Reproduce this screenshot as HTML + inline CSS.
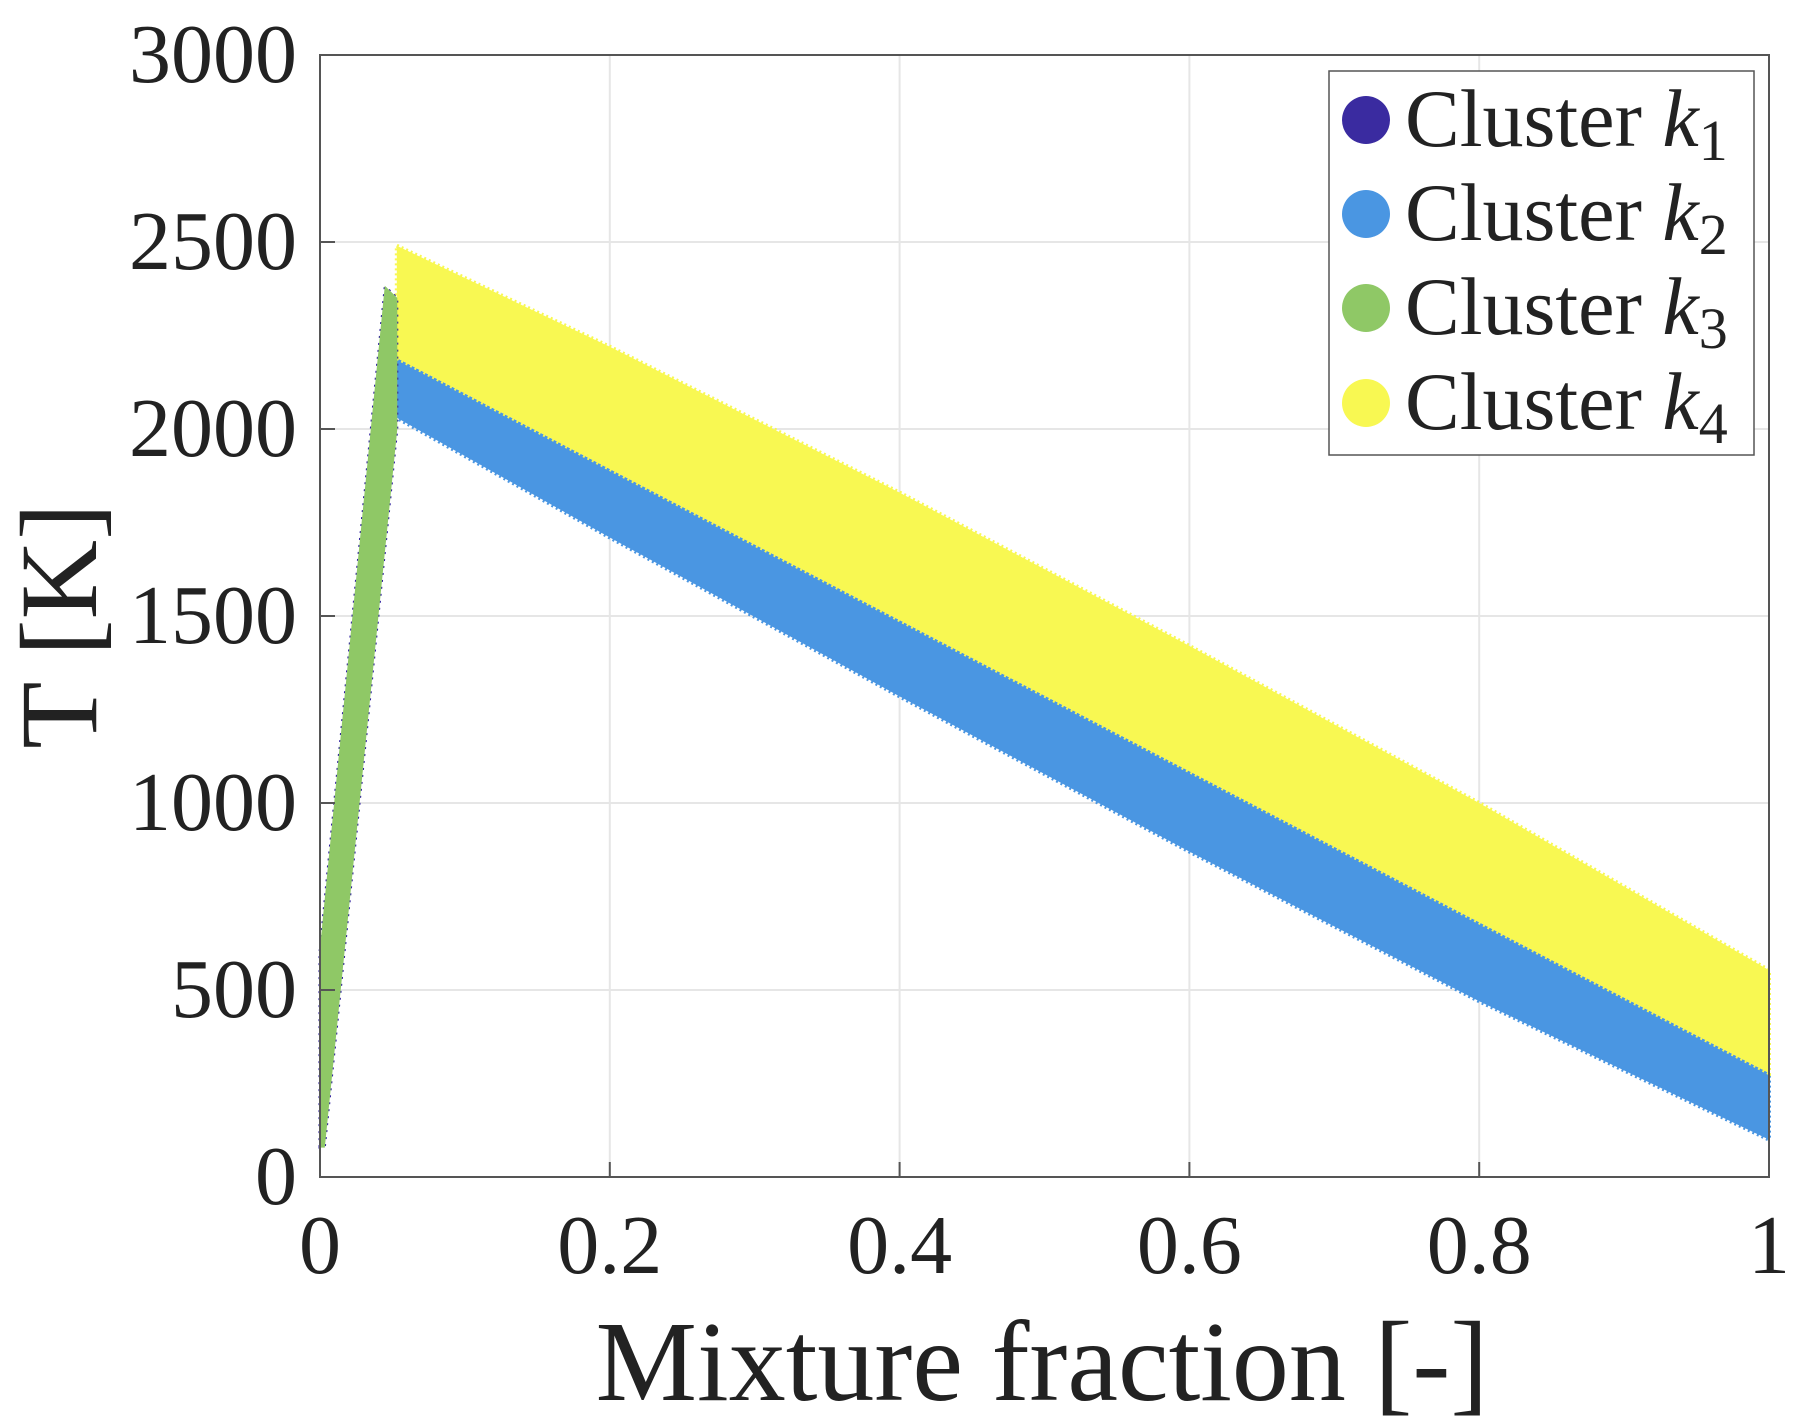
<!DOCTYPE html>
<html><head><meta charset="utf-8"><style>
html,body{margin:0;padding:0;background:#fff;width:1800px;height:1426px;overflow:hidden}
svg{display:block}
text{font-family:"Liberation Serif",serif;fill:#222}
</style></head><body>
<svg id="chart" width="1800" height="1426" viewBox="0 0 1800 1426" xmlns="http://www.w3.org/2000/svg">
<g id="grid"></g>
<g id="marks"></g>
<rect x="320" y="55" width="1449" height="1122" fill="none" stroke="#555" stroke-width="2"/>
<g id="ticks"></g>
<text x="1042" y="1400" font-size="114" text-anchor="middle">Mixture fraction [-]</text>
<text transform="translate(96,626) rotate(-90)" font-size="110" text-anchor="middle">T [K]</text>
<g>
<rect x="1329" y="71" width="425" height="384" fill="#fff" stroke="#555" stroke-width="1.5"/>
<g><circle cx="1366" cy="120" r="24" fill="#3a2ba0"/><text x="1405" y="146" font-size="82">Cluster <tspan font-style="italic">k</tspan><tspan font-size="58" dy="14">1</tspan></text></g>
<g><circle cx="1366" cy="214" r="24" fill="#4a96e2"/><text x="1405" y="240" font-size="82">Cluster <tspan font-style="italic">k</tspan><tspan font-size="58" dy="14">2</tspan></text></g>
<g><circle cx="1366" cy="308" r="24" fill="#8fc866"/><text x="1405" y="334" font-size="82">Cluster <tspan font-style="italic">k</tspan><tspan font-size="58" dy="14">3</tspan></text></g>
<g><circle cx="1366" cy="403" r="24" fill="#f8f852"/><text x="1405" y="429" font-size="82">Cluster <tspan font-style="italic">k</tspan><tspan font-size="58" dy="14">4</tspan></text></g>
</g>
</svg>
<script>
const xTicks=[0,0.2,0.4,0.6,0.8,1];
const xTickLabels=["0","0.2","0.4","0.6","0.8","1"];
const yTicks=[0,500,1000,1500,2000,2500,3000];
const yTickLabels=["0","500","1000","1500","2000","2500","3000"];
const bandX=[0.053,0.2,0.4,0.6,0.8,1.0];
const k4Top=[2490,2220,1830,1420,1000,553];
const k2Top=[2190,1893,1489,1085,681,278];
const k2Bottom=[2030,1710,1285,870,470,100];
const k3X=[0,0,0.045,0.053,0.053,0.003];
const k3T=[80,600,2380,2350,2000,80];

const NS="http://www.w3.org/2000/svg";
const X0=320,X1=1769,Y0=1177,Y1=55;
const sx=v=>X0+(v-0)/(1-0)*(X1-X0);
const sy=v=>Y0-(v-0)/(3000-0)*(Y0-Y1);
function mk(tag,attrs,parent){const e=document.createElementNS(NS,tag);for(const k in attrs)e.setAttribute(k,attrs[k]);parent.appendChild(e);return e;}
const grid=document.getElementById('grid'),ticks=document.getElementById('ticks'),marks=document.getElementById('marks');
xTicks.forEach((t,i)=>{
  const g=mk('line',{x1:sx(t),x2:sx(t),y1:Y1,y2:Y0,stroke:'#e6e6e6','stroke-width':2},grid);
  
  
  const tk=mk('line',{x1:sx(t),x2:sx(t),y1:Y0,y2:Y0-15,stroke:'#555','stroke-width':2},ticks);
  
  
  const tx=mk('text',{x:sx(t),y:1273,'font-size':84,'text-anchor':'middle'},ticks);
  tx.textContent=xTickLabels[i];
  
  
});
yTicks.forEach((t,i)=>{
  const g=mk('line',{x1:X0,x2:X1,y1:sy(t),y2:sy(t),stroke:'#e6e6e6','stroke-width':2},grid);
  
  
  const tk=mk('line',{x1:X0,x2:X0+15,y1:sy(t),y2:sy(t),stroke:'#555','stroke-width':2},ticks);
  
  
  const tx=mk('text',{x:297,y:sy(t)+27,'font-size':84,'text-anchor':'end'},ticks);
  tx.textContent=yTickLabels[i];
  
  
});
function band(top,bot){
  let p=bandX.map((x,i)=>sx(x)+','+sy(top[i]));
  for(let i=bandX.length-1;i>=0;i--)p.push(sx(bandX[i])+','+sy(bot[i]));
  return p.join(' ');
}
const b2=mk('polygon',{points:band(k2Top,k2Bottom),fill:'#4a96e2',stroke:'#4a96e2','stroke-width':4,'stroke-dasharray':'2 3'},marks);


const b4=mk('polygon',{points:band(k4Top,k2Top),fill:'#f8f852',stroke:'#f8f852','stroke-width':4,'stroke-dasharray':'2 3'},marks);


const k3pts=k3X.map((x,i)=>sx(x)+','+sy(k3T[i])).join(' ');
const b1=mk('polygon',{points:k3pts,fill:'none',stroke:'#2d1e9e','stroke-width':3,'stroke-dasharray':'2 5'},marks);


const b3=mk('polygon',{points:k3pts,fill:'#8fc866',stroke:'#8fc866','stroke-width':1},marks);


</script>
</body></html>
